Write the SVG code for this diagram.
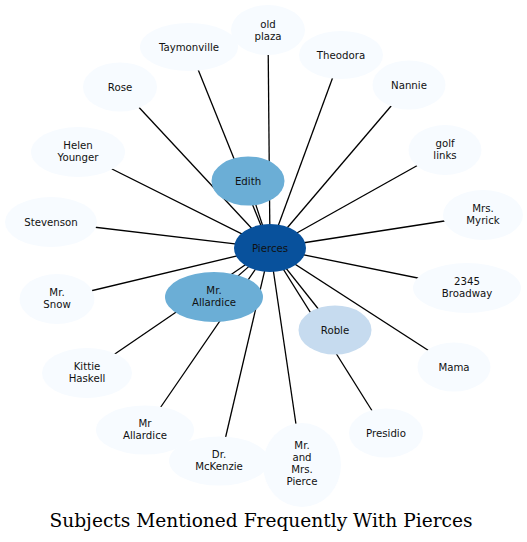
<svg xmlns="http://www.w3.org/2000/svg" width="527" height="542" viewBox="0 0 527 542">
<style>
.e{stroke:#000;stroke-width:1.3;fill:none}
.n0{fill:#f7fbff}
.n1{fill:#c6dbef}
.n2{fill:#6baed6}
.n3{fill:#08519c}
text{font-family:"DejaVu Sans",sans-serif;font-size:10.2px;fill:#111;text-anchor:middle}
.t{font-family:"DejaVu Serif","Liberation Serif",serif;font-size:18.5px;fill:#000}
</style>
<rect width="527" height="542" fill="#fff"/>
<g id="edges">
<line class="e" x1="270" y1="248" x2="268" y2="30"/>
<line class="e" x1="270" y1="248" x2="189" y2="47"/>
<line class="e" x1="270" y1="248" x2="341" y2="55"/>
<line class="e" x1="270" y1="248" x2="120" y2="87"/>
<line class="e" x1="270" y1="248" x2="409" y2="85"/>
<line class="e" x1="270" y1="248" x2="78" y2="152"/>
<line class="e" x1="270" y1="248" x2="445" y2="150"/>
<line class="e" x1="270" y1="248" x2="248" y2="181"/>
<line class="e" x1="270" y1="248" x2="51" y2="222"/>
<line class="e" x1="270" y1="248" x2="483" y2="215"/>
<line class="e" x1="270" y1="248" x2="57" y2="299"/>
<line class="e" x1="270" y1="248" x2="467" y2="288"/>
<line class="e" x1="270" y1="248" x2="214" y2="297"/>
<line class="e" x1="270" y1="248" x2="335" y2="330"/>
<line class="e" x1="270" y1="248" x2="87" y2="373"/>
<line class="e" x1="270" y1="248" x2="454" y2="367"/>
<line class="e" x1="270" y1="248" x2="145" y2="430"/>
<line class="e" x1="270" y1="248" x2="386" y2="433"/>
<line class="e" x1="270" y1="248" x2="220" y2="461"/>
<line class="e" x1="270" y1="248" x2="302" y2="465"/>
</g>
<g id="old_plaza"><ellipse class="n0" cx="268" cy="30" rx="37" ry="25"/><text x="268" y="27.8">old</text><text x="268" y="39.8">plaza</text></g>
<g id="Taymonville"><ellipse class="n0" cx="189" cy="47" rx="49" ry="24"/><text x="189" y="50.8">Taymonville</text></g>
<g id="Theodora"><ellipse class="n0" cx="341" cy="55" rx="42" ry="24"/><text x="341" y="58.8">Theodora</text></g>
<g id="Rose"><ellipse class="n0" cx="120" cy="87" rx="37" ry="24.5"/><text x="120" y="90.8">Rose</text></g>
<g id="Nannie"><ellipse class="n0" cx="409" cy="85" rx="36.5" ry="24.5"/><text x="409" y="88.8">Nannie</text></g>
<g id="Helen_Younger"><ellipse class="n0" cx="78" cy="152" rx="47" ry="25"/><text x="78" y="149.3">Helen</text><text x="78" y="161.3">Younger</text></g>
<g id="golf_links"><ellipse class="n0" cx="445" cy="150" rx="36.5" ry="25"/><text x="445" y="147.3">golf</text><text x="445" y="159.3">links</text></g>
<g id="Edith"><ellipse class="n2" cx="248" cy="181" rx="36.5" ry="24.5"/><text x="248" y="184.8">Edith</text></g>
<g id="Stevenson"><ellipse class="n0" cx="51" cy="222" rx="46" ry="25"/><text x="51" y="225.8">Stevenson</text></g>
<g id="Mrs_Myrick"><ellipse class="n0" cx="483" cy="215" rx="40" ry="25"/><text x="483" y="212.3">Mrs.</text><text x="483" y="224.3">Myrick</text></g>
<g id="Pierces"><ellipse class="n3" cx="270" cy="248" rx="36" ry="24"/><text x="270" y="251.8">Pierces</text></g>
<g id="Mr_Snow"><ellipse class="n0" cx="57" cy="299" rx="37.5" ry="25"/><text x="57" y="296.3">Mr.</text><text x="57" y="308.3">Snow</text></g>
<g id="Broadway"><ellipse class="n0" cx="467" cy="288" rx="54" ry="25"/><text x="467" y="285.3">2345</text><text x="467" y="297.3">Broadway</text></g>
<g id="Mr_Allardice"><ellipse class="n2" cx="214" cy="297" rx="49" ry="25"/><text x="214" y="294.3">Mr.</text><text x="214" y="306.3">Allardice</text></g>
<g id="Roble"><ellipse class="n1" cx="335" cy="330" rx="36.5" ry="24.5"/><text x="335" y="333.8">Roble</text></g>
<g id="Kittie_Haskell"><ellipse class="n0" cx="87" cy="373" rx="45" ry="25"/><text x="87" y="370.3">Kittie</text><text x="87" y="382.3">Haskell</text></g>
<g id="Mama"><ellipse class="n0" cx="454" cy="367" rx="36.5" ry="24.5"/><text x="454" y="370.8">Mama</text></g>
<g id="Mr_Allardice2"><ellipse class="n0" cx="145" cy="430" rx="49" ry="24.5"/><text x="145" y="427.3">Mr</text><text x="145" y="439.3">Allardice</text></g>
<g id="Presidio"><ellipse class="n0" cx="386" cy="433" rx="37" ry="24.5"/><text x="386" y="436.8">Presidio</text></g>
<g id="Dr_McKenzie"><ellipse class="n0" cx="219" cy="461" rx="50" ry="24.5"/><text x="219" y="458.3">Dr.</text><text x="219" y="470.3">McKenzie</text></g>
<g id="Mr_and_Mrs_Pierce"><ellipse class="n0" cx="302" cy="465" rx="39" ry="42"/><text x="302" y="448.8">Mr.</text><text x="302" y="460.8">and</text><text x="302" y="472.8">Mrs.</text><text x="302" y="484.8">Pierce</text></g>
<text class="t" x="261" y="527" textLength="423" lengthAdjust="spacingAndGlyphs">Subjects Mentioned Frequently With Pierces</text>
</svg>
